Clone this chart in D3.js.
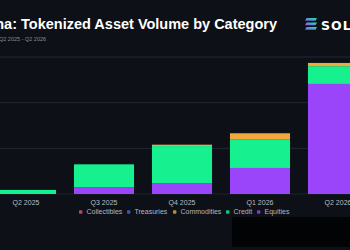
<!DOCTYPE html>
<html>
<head>
<meta charset="utf-8">
<script src="https://cdn.jsdelivr.net/npm/d3@7"></script>
<style>
  html, body { margin: 0; padding: 0; background: #0d1016; }
  svg { display: block; }
</style>
</head>
<body>
<svg width="350" height="250"></svg>
<script>
const quarters = ['Q2 2025', 'Q3 2025', 'Q4 2025', 'Q1 2026', 'Q2 2026'];
const categories = ['Collectibles', 'Treasuries', 'Commodities', 'Credit', 'Equities'];
const collectibles = [0, 0, 0, 0, 0];
const treasuries = [0, 0, 0, 0, 0];
const commodities = [0, 0, 3, 13, 7];
const credit = [9, 50, 81, 63, 39];
const equities = [0, 15, 24, 57, 241];
const yTicks = [0, 100, 200, 300];
const colors = ['#e0528a', '#3d6fd8', '#f2a93b', '#16f08f', '#9b45fb'];

const svg = d3.select('svg');
const W = 350, H = 250;

const rows = quarters.map((q, i) => ({
  quarter: q,
  Collectibles: collectibles[i],
  Treasuries: treasuries[i],
  Commodities: commodities[i],
  Credit: credit[i],
  Equities: equities[i]
}));

// bottom-up order: equities, credit, commodities, treasuries, collectibles
const stackOrder = ['Equities', 'Credit', 'Commodities', 'Treasuries', 'Collectibles'];
const color = d3.scaleOrdinal().domain(categories).range(colors);
const series = d3.stack().keys(stackOrder)(rows);

const x = d3.scaleBand().domain(quarters).range([-13, 377]).paddingInner(0.23).paddingOuter(0.115);
const y = d3.scaleLinear().domain([0, 300]).range([194, 57]);

// gridlines
svg.append('g')
  .selectAll('line')
  .data(yTicks)
  .join('line')
  .attr('x1', 0).attr('x2', W)
  .attr('y1', d => y(d)).attr('y2', d => y(d))
  .attr('stroke', d => d === 0 ? '#1c2029' : '#232833')
  .attr('stroke-width', 1);

// bars
svg.append('g')
  .selectAll('g')
  .data(series)
  .join('g')
  .attr('fill', d => color(d.key))
  .selectAll('rect')
  .data(d => d)
  .join('rect')
  .attr('x', d => x(d.data.quarter))
  .attr('width', x.bandwidth())
  .attr('y', d => y(d[1]))
  .attr('height', d => Math.max(0, y(d[0]) - y(d[1])));

// x axis labels
const xAxis = d3.axisBottom(x).tickSize(0).tickPadding(4);
const gx = svg.append('g').attr('transform', 'translate(0,196)').call(xAxis);
gx.select('.domain').remove();
gx.selectAll('text')
  .attr('fill', '#b9bcc4')
  .attr('font-family', 'Liberation Sans, Arial, sans-serif')
  .attr('font-size', 7);

// title (left part runs off the picture, as in the source)
svg.append('text')
  .attr('x', 277).attr('y', 29)
  .attr('text-anchor', 'end')
  .attr('fill', '#ffffff')
  .attr('font-family', 'Liberation Sans, Arial, sans-serif')
  .attr('font-weight', 'bold')
  .attr('font-size', 14.5)
  .text('Solana: Tokenized Asset Volume by Category');

svg.append('text')
  .attr('x', -1).attr('y', 41)
  .attr('fill', '#8a8f99')
  .attr('font-family', 'Liberation Sans, Arial, sans-serif')
  .attr('font-size', 5.5)
  .text('Q2 2025 - Q2 2026');

// logo
const grad = svg.append('defs').append('linearGradient')
  .attr('id', 'solgrad').attr('x1', 0).attr('y1', 1).attr('x2', 1).attr('y2', 0);
grad.append('stop').attr('offset', '0%').attr('stop-color', '#9945ff');
grad.append('stop').attr('offset', '100%').attr('stop-color', '#14f195');
const logo = svg.append('g').attr('transform', 'translate(305,18)');
[0, 4.5, 9].forEach(dy => {
  logo.append('path')
    .attr('d', `M1.5,${dy} L12,${dy} L10.5,${dy + 2.8} L0,${dy + 2.8} Z`)
    .attr('fill', 'url(#solgrad)');
});
svg.append('text')
  .attr('x', 321).attr('y', 29.5)
  .attr('fill', '#ffffff')
  .attr('font-family', 'DejaVu Sans, sans-serif')
  .attr('font-weight', 'bold')
  .attr('font-size', 12.5)
  .attr('letter-spacing', 1)
  .text('SOLANA');

// legend
const legendX = [79, 127, 173, 226, 257];
const legend = svg.append('g')
  .selectAll('g')
  .data(categories)
  .join('g')
  .attr('transform', (d, i) => `translate(${legendX[i]},212)`);
legend.append('rect')
  .attr('x', 0).attr('y', -1.7).attr('width', 3.4).attr('height', 3.4).attr('rx', 0.8)
  .attr('fill', d => color(d))
  .attr('opacity', 0.8);
legend.append('text')
  .attr('x', 7.5).attr('y', 0).attr('dy', '0.35em')
  .attr('fill', '#b4b7bf')
  .attr('font-family', 'Liberation Sans, Arial, sans-serif')
  .attr('font-size', 7)
  .text(d => d);

// dark patch over the lower right
svg.append('rect')
  .attr('x', 232).attr('y', 217).attr('width', 130).attr('height', 30)
  .attr('fill', '#020304');
</script>
</body>
</html>
